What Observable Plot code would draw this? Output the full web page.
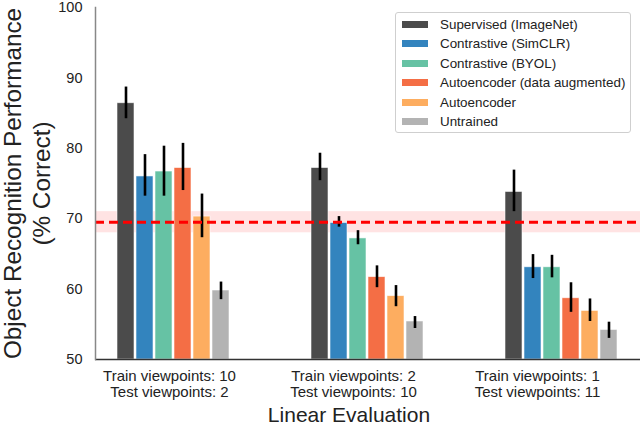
<!DOCTYPE html>
<html>
<head>
<meta charset="utf-8">
<script src="https://cdn.jsdelivr.net/npm/d3@7"></script>
<script src="https://cdn.jsdelivr.net/npm/@observablehq/plot@0.6"></script>
<style>
  body { margin: 0; background: #fff; font-family: "Liberation Sans", Arial, sans-serif; }
  #wrap { position: relative; width: 640px; height: 427px; }
  .layer { position: absolute; left: 0; top: 0; }
  .layer svg { background: transparent !important; }
  #legend { position: absolute; left: 395px; top: 12px; width: 236px; height: 121px;
    border: 1px solid #cfcfcf; border-radius: 3px; background: #fff; box-sizing: border-box; }
  .row { position: absolute; left: 0; height: 16px; display: flex; align-items: center; font-size: 13.4px; color: #222; white-space: nowrap; }
  .sw { width: 26px; height: 7px; margin-left: 6px; margin-right: 12px; }
</style>
</head>
<body>
<div id="wrap">
  <div id="l1" class="layer"></div>
  <div id="l2" class="layer"></div>
  <div id="l3" class="layer"></div>
  <div id="legend"></div>
</div>
<script>
const groupKeys = ["g1", "g2", "g3"];
const groupLabels = ["Train viewpoints: 10\nTest viewpoints: 2", "Train viewpoints: 2\nTest viewpoints: 10", "Train viewpoints: 1\nTest viewpoints: 11"];
const methods = ["Supervised (ImageNet)", "Contrastive (SimCLR)", "Contrastive (BYOL)", "Autoencoder (data augmented)", "Autoencoder", "Untrained"];
const colors = ["#4b4b4b", "#3384be", "#66c2a4", "#f46e45", "#fdad60", "#b3b3b3"];
const values = [
  [86.4, 76.0, 76.7, 77.2, 70.3, 59.8],
  [77.2, 69.4, 67.2, 61.7, 59.0, 55.4],
  [73.8, 63.1, 63.1, 58.7, 56.9, 54.2]
];
const lows = [
  [84.2, 73.2, 73.2, 74.0, 67.3, 58.5],
  [75.4, 68.8, 66.3, 60.2, 57.5, 54.4],
  [71.0, 61.5, 61.6, 56.7, 55.4, 53.0]
];
const highs = [
  [88.7, 79.1, 80.3, 80.7, 73.5, 61.0],
  [79.3, 70.3, 68.3, 63.3, 60.5, 56.1],
  [76.9, 64.9, 64.8, 60.9, 58.6, 55.3]
];
const baseline = 69.5;
const baselineLow = 68.0;
const baselineHigh = 71.0;
const yTicks = [50, 60, 70, 80, 90, 100];
const yMin = 50, yMax = 100;

const data = [];
groupKeys.forEach((g, gi) => methods.forEach((m, mi) => {
  data.push({group: g, method: m, value: values[gi][mi], lo: lows[gi][mi], hi: highs[gi][mi]});
}));

const common = {
  width: 640, height: 427,
  marginTop: 7, marginBottom: 68, marginLeft: 95, marginRight: 0,
  style: {fontFamily: "'Liberation Sans', Arial, sans-serif", color: "#222", background: "transparent", overflow: "visible"},
  y: {domain: [yMin, yMax], axis: null}
};

// Layer 1: band, axes, titles
const p1 = Plot.plot({
  ...common,
  x: {type: "point", domain: groupKeys, padding: 0.479, align: 0.419, axis: null},
  marks: [
    Plot.rect([{lo: baselineLow, hi: baselineHigh}], {y1: "lo", y2: "hi", fill: "#ffe3e3"}),
    Plot.axisY({ticks: yTicks, tickSize: 0, tickPadding: 13, fontSize: 14.5, label: null}),
    Plot.axisX({anchor: "bottom", tickSize: 0, tickPadding: 10, fontSize: 15, lineHeight: 1.08, label: null,
      tickFormat: g => groupLabels[groupKeys.indexOf(g)]}),
    Plot.text(["Linear Evaluation"], {frameAnchor: "bottom", dy: 56, dx: -19, fontSize: 21, lineAnchor: "middle"}),
    Plot.text(["Object Recognition Performance\n(% Correct)"], {frameAnchor: "left", dx: -69, rotate: -90, fontSize: 24.3, textAnchor: "middle", lineAnchor: "middle", lineHeight: 1.2})
  ]
});
document.getElementById("l1").appendChild(p1);

// Layer 2: grouped bars
const p2 = Plot.plot({
  ...common,
  fx: {domain: groupKeys, paddingInner: 0.402, paddingOuter: 0.105, label: null, axis: null},
  x: {domain: methods, paddingInner: 0.08, paddingOuter: 0, axis: null},
  color: {domain: methods, range: colors},
  marks: [
    Plot.barY(data, {fx: "group", x: "method", y1: yMin, y2: "value", fill: "method", stroke: "#fff", strokeOpacity: 0.7, strokeWidth: 0.8}),
    Plot.ruleX(data, {fx: "group", x: "method", y1: "lo", y2: "hi", stroke: "black", strokeWidth: 2.6})
  ]
});
document.getElementById("l2").appendChild(p2);

// Layer 3: baseline and axis lines
const p3 = Plot.plot({
  ...common,
  marks: [
    Plot.ruleY([baseline], {stroke: "#ff0000", strokeWidth: 3, strokeDasharray: "9,5"}),
    Plot.ruleY([yMin], {stroke: "#333", strokeWidth: 1.5}),
    Plot.frame({anchor: "left", stroke: "#888", strokeWidth: 1.5})
  ]
});
document.getElementById("l3").appendChild(p3);

const legend = document.getElementById("legend");
methods.forEach((m, i) => {
  const row = document.createElement("div");
  row.className = "row";
  row.style.top = (3 + i * 19.5) + "px";
  row.innerHTML = `<span class="sw" style="background:${colors[i]}"></span><span>${m}</span>`;
  legend.appendChild(row);
});
</script>
</body>
</html>
